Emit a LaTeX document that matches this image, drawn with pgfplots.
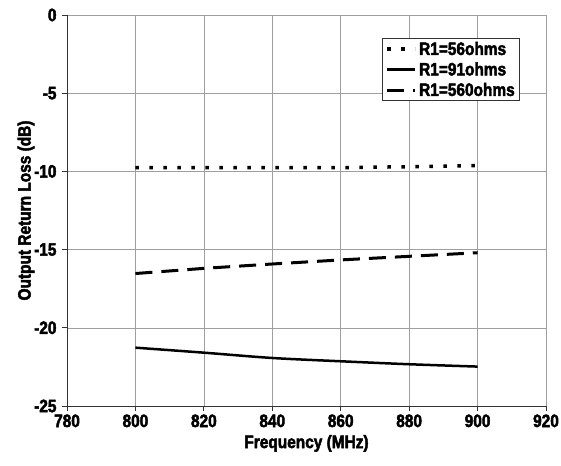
\documentclass[border=0pt]{standalone}
\usepackage{pgfplots}
\pgfplotsset{compat=1.18}
\usepackage{fontspec}
\setmainfont{Liberation Sans Bold}[FakeStretch=0.86, FakeBold=2.5]
\begin{document}
\begin{tikzpicture}
\begin{axis}[
  name=ax,
  scale only axis, width=479bp, height=391bp,
  xmin=780, xmax=920, ymin=-25, ymax=0,
  xtick={780,800,...,920}, ytick={-25,-20,...,0},
  axis x line*=bottom, axis y line*=left,
  axis line style={black!80, line width=0.8pt},
  grid=major, major grid style={gray!75, line width=0.6pt},
  tick align=outside, major tick length=5bp,
  tick style={black!80, line width=0.8pt},
  /pgf/number format/assume math mode=true,
  /pgf/number format/1000 sep={},
  ticklabel style={font=\fontsize{18}{21}\selectfont},
  xticklabel style={yshift=0bp},
  yticklabel style={xshift=-2bp},
  xlabel={Frequency (MHz)}, ylabel={Output Return Loss (dB)},
  label style={font=\fontsize{18}{21}\selectfont},
  xlabel style={yshift=-1bp}, ylabel style={yshift=-7bp},
  legend style={at={(0.946,0.941)}, anchor=north east, draw=black!80, line width=0.8pt,
    font=\fontsize{18}{21}\selectfont, inner xsep=3bp, inner ysep=1.5bp,
    row sep=2bp},
  legend cell align=left,
  legend image code/.code={\draw[#1] (0bp,0bp) -- (28bp,0bp);},
]
\addplot[black, line width=3.5bp, dash pattern=on 3.5bp off 10.5bp] coordinates {
 (800,-9.76) (820,-9.76) (840,-9.76) (860,-9.76) (880,-9.70) (900,-9.63)};
\addlegendentry{R1=56ohms}
\addplot[black, line width=2.5bp, smooth] coordinates {
 (800,-21.27) (820,-21.59) (840,-21.93) (860,-22.14) (880,-22.33) (900,-22.48)};
\addlegendentry{R1=91ohms}
\addplot[black, line width=3bp, dash pattern=on 17bp off 9bp] coordinates {
 (800,-16.53) (820,-16.2) (840,-15.92) (860,-15.66) (880,-15.43) (900,-15.2)};
\addlegendentry{R1=560ohms}
\end{axis}
\pgfresetboundingbox
\path (ax.south west) ++(-67bp,-60bp) rectangle ([shift={(15bp,15bp)}]ax.north east);
\end{tikzpicture}
\end{document}
